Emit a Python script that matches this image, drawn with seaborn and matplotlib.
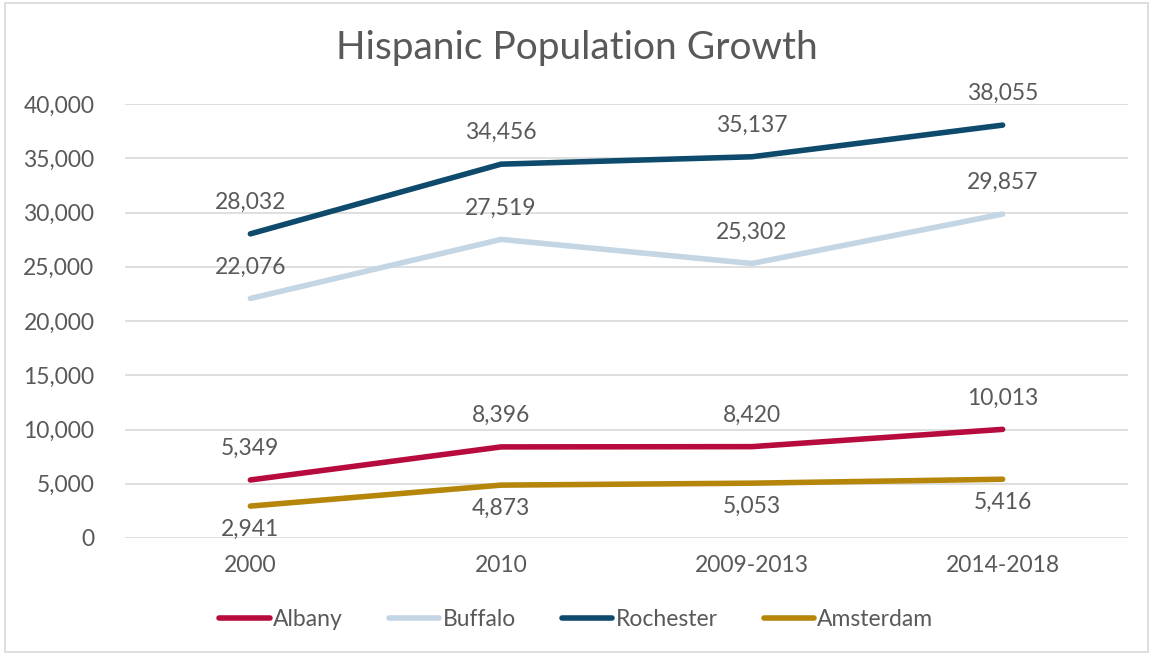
"""Hispanic population growth line chart."""

import matplotlib
matplotlib.use("Agg")
import matplotlib.pyplot as plt
import pandas as pd
import seaborn as sns
from matplotlib.patches import Rectangle

PERIODS = ["2000", "2010", "2009-2013", "2014-2018"]
CITIES = ["Albany", "Buffalo", "Rochester", "Amsterdam"]
ALBANY = [5349, 8396, 8420, 10013]
BUFFALO = [22076, 27519, 25302, 29857]
ROCHESTER = [28032, 34456, 35137, 38055]
AMSTERDAM = [2941, 4873, 5053, 5416]

COLORS = {
    "Albany": "#B70A3D",
    "Buffalo": "#C4D5E3",
    "Rochester": "#0D4A6C",
    "Amsterdam": "#B5860A",
}
# label placement: above or below the point
LABEL_POS = {"Albany": "above", "Buffalo": "above", "Rochester": "above", "Amsterdam": "below"}

rows = []
for city, vals in zip(CITIES, [ALBANY, BUFFALO, ROCHESTER, AMSTERDAM]):
    for i, (p, v) in enumerate(zip(PERIODS, vals)):
        rows.append({"city": city, "period": p, "x": i, "value": v})
df = pd.DataFrame(rows)

sns.set_style("white")
plt.rcParams["font.family"] = ["Lato", "DejaVu Sans"]
TXT = "#595959"
FS = 16.5

fig = plt.figure(figsize=(11.53, 6.55), dpi=100)
ax = fig.add_axes([125 / 1153, 1 - 538 / 655, 1003 / 1153, 434 / 655])

sns.lineplot(data=df, x="x", y="value", hue="city", hue_order=CITIES,
             palette=COLORS, linewidth=4, ax=ax, legend=True,
             solid_capstyle="round")

for city in CITIES:
    sub = df[df["city"] == city]
    for _, r in sub.iterrows():
        if LABEL_POS[city] == "above":
            ax.annotate(f"{r['value']:,}", (r["x"], r["value"]), xytext=(0, 15),
                        textcoords="offset points", ha="center", va="bottom",
                        fontsize=FS, color=TXT)
        else:
            ax.annotate(f"{r['value']:,}", (r["x"], r["value"]), xytext=(0, -9),
                        textcoords="offset points", ha="center", va="top",
                        fontsize=FS, color=TXT)

ax.set_xlim(-0.5, 3.5)
ax.set_ylim(0, 40000)
ax.set_yticks(range(0, 40001, 5000))
ax.set_yticklabels([f"{v:,}" for v in range(0, 40001, 5000)])
ax.set_xticks(range(len(PERIODS)))
ax.set_xticklabels(PERIODS)
ax.tick_params(axis="both", labelsize=FS, colors=TXT, length=0)
ax.tick_params(axis="y", pad=22)
ax.tick_params(axis="x", pad=12)
ax.grid(axis="y", color="#D9D9D9", linewidth=1.2)
ax.set_axisbelow(True)
for s in ax.spines.values():
    s.set_visible(False)
ax.set_xlabel("")
ax.set_ylabel("")

fig.text(0.5, 1 - 48 / 655, "Hispanic Population Growth", ha="center", va="center",
         fontsize=28, color=TXT)

handles, labels = ax.get_legend_handles_labels()
ax.legend(handles, labels, loc="center", bbox_to_anchor=(0.5, 1 - 620 / 655),
          bbox_transform=fig.transFigure, ncol=4, frameon=False, fontsize=FS,
          labelcolor=TXT, handlelength=2.2, handletextpad=0.15, columnspacing=2.0)

fig.patches.append(Rectangle((0.004, 0.004), 0.992, 0.992, transform=fig.transFigure,
                             fill=False, edgecolor="#D9D9D9", linewidth=1.2))

fig.savefig("out.png", dpi=100)
plt.close(fig)
